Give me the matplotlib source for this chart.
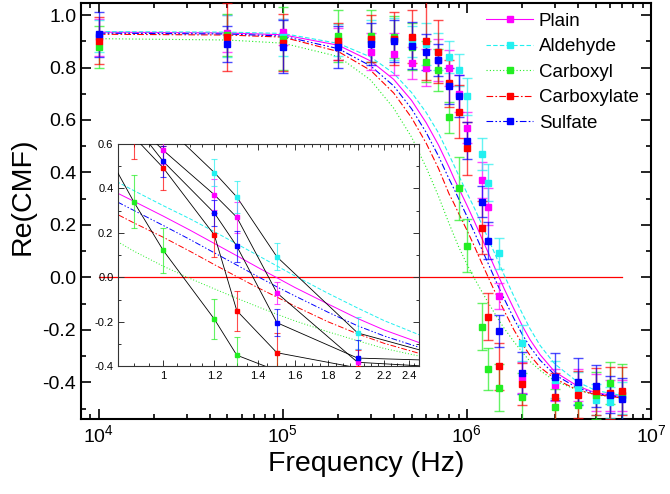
import numpy as np
import matplotlib
matplotlib.use('Agg')
import matplotlib.pyplot as plt
from matplotlib.lines import Line2D
from matplotlib.ticker import MultipleLocator, LogLocator, FixedLocator, FormatStrFormatter, NullFormatter

plt.rcParams['font.family'] = ['Liberation Sans', 'DejaVu Sans']
plt.rcParams['mathtext.fontset'] = 'custom'
plt.rcParams['mathtext.rm'] = 'Liberation Sans'
plt.rcParams['mathtext.it'] = 'Liberation Sans:italic'
plt.rcParams['mathtext.bf'] = 'Liberation Sans:bold'
plt.rcParams['axes.unicode_minus'] = False

# measured points (Hz)
freq = [1e4, 5e4, 1e5, 2e5, 3e5, 4e5, 5e5, 6e5, 7e5, 8e5, 9e5, 1e6,
        1.2e6, 1.3e6, 1.5e6, 2e6, 3e6, 4e6, 5e6, 6e6, 7e6]

plain = [0.915, 0.93, 0.935, 0.89, 0.861, 0.851, 0.817, 0.80, 0.83, 0.798, 0.70, 0.571,
         0.371, 0.27, -0.07, -0.382, -0.411, -0.41, -0.44, -0.45, -0.45]
aldehyde = [0.92, 0.92, 0.915, 0.905, 0.90, 0.91, 0.90, 0.89, 0.861, 0.84, 0.79, 0.69,
            0.471, 0.361, 0.092, -0.25, -0.39, -0.421, -0.466, -0.477, -0.46]
carboxyl = [0.88, 0.925, 0.91, 0.921, 0.92, 0.915, 0.88, 0.823, 0.79, 0.61, 0.34, 0.121,
            -0.188, -0.35, -0.42, -0.456, -0.494, -0.487, -0.449, -0.402, -0.45]
carboxylate = [0.903, 0.916, 0.895, 0.90, 0.91, 0.91, 0.918, 0.903, 0.86, 0.74, 0.632, 0.492,
               0.19, -0.15, -0.339, -0.407, -0.456, -0.447, -0.434, -0.44, -0.433]
sulfate = [0.927, 0.89, 0.88, 0.88, 0.89, 0.903, 0.883, 0.859, 0.829, 0.73, 0.69, 0.521,
           0.289, 0.14, -0.204, -0.363, -0.378, -0.398, -0.414, -0.447, -0.462]

plain_err = [0.07, 0.07, 0.05, 0.06, 0.07, 0.08, 0.06, 0.07, 0.08, 0.07, 0.07, 0.06,
             0.07, 0.07, 0.05, 0.06, 0.06, 0.06, 0.07, 0.06, 0.06]
aldehyde_err = [0.06, 0.08, 0.07, 0.06, 0.08, 0.08, 0.06, 0.08, 0.07, 0.06, 0.06, 0.07,
                0.06, 0.07, 0.06, 0.07, 0.07, 0.06, 0.06, 0.06, 0.06]
carboxyl_err = [0.08, 0.08, 0.12, 0.10, 0.10, 0.08, 0.09, 0.08, 0.08, 0.06, 0.12, 0.10,
                0.09, 0.08, 0.09, 0.09, 0.07, 0.07, 0.09, 0.08, 0.12]
carboxylate_err = [0.09, 0.13, 0.11, 0.07, 0.09, 0.10, 0.10, 0.15, 0.12, 0.09, 0.10, 0.10,
                   0.10, 0.09, 0.09, 0.08, 0.09, 0.09, 0.09, 0.10, 0.09]
sulfate_err = [0.085, 0.07, 0.10, 0.08, 0.08, 0.08, 0.09, 0.07, 0.06, 0.07, 0.08, 0.07,
               0.06, 0.07, 0.06, 0.08, 0.09, 0.09, 0.08, 0.07, 0.08]

# fitted curves
fit_freq = [1e4, 5e4, 1e5, 2e5, 3e5, 4e5, 5e5, 6e5, 7e5, 8e5, 8.5e5, 9e5, 1e6, 1.1e6,
            1.2e6, 1.3e6, 1.4e6, 1.5e6, 1.6e6, 1.8e6, 2e6, 2.2e6, 2.5e6, 3e6, 4e6, 5e6, 7e6]
plain_fit = [0.935, 0.932, 0.925, 0.885, 0.825, 0.755, 0.675, 0.59, 0.505, 0.42, 0.378, 0.342,
             0.275, 0.212, 0.152, 0.097, 0.045, -0.002, -0.046, -0.12, -0.185, -0.237, -0.295,
             -0.36, -0.415, -0.44, -0.455]
aldehyde_fit = [0.937, 0.935, 0.93, 0.892, 0.84, 0.778, 0.705, 0.629, 0.551, 0.467, 0.428, 0.39,
                0.322, 0.263, 0.205, 0.15, 0.099, 0.051, 0.006, -0.072, -0.138, -0.195, -0.26,
                -0.33, -0.399, -0.431, -0.451]
carboxyl_fit = [0.91, 0.905, 0.893, 0.842, 0.752, 0.645, 0.535, 0.42, 0.31, 0.205, 0.16, 0.118,
                0.05, -0.005, -0.052, -0.094, -0.132, -0.166, -0.196, -0.245, -0.285, -0.32,
                -0.355, -0.395, -0.43, -0.448, -0.46]
carboxylate_fit = [0.927, 0.924, 0.916, 0.861, 0.789, 0.703, 0.609, 0.512, 0.416, 0.318, 0.282,
                   0.245, 0.18, 0.117, 0.057, 0.003, -0.046, -0.089, -0.13, -0.2, -0.254, -0.297,
                   -0.343, -0.386, -0.43, -0.446, -0.46]
sulfate_fit = [0.931, 0.928, 0.92, 0.872, 0.806, 0.73, 0.643, 0.553, 0.463, 0.375, 0.338, 0.301,
               0.233, 0.17, 0.11, 0.055, 0.004, -0.043, -0.084, -0.157, -0.218, -0.264, -0.316,
               -0.371, -0.422, -0.443, -0.457]

labels = ['Plain', 'Aldehyde', 'Carboxyl', 'Carboxylate', 'Sulfate']
colors = ['#FF00FF', '#22F0F0', '#22EE22', '#FF0000', '#0000FF']
styles = ['-', (0, (4, 2)), (0, (1, 2)), (0, (6, 2, 1.5, 2)), (0, (6, 2, 1.5, 2, 1.5, 2))]
values = [plain, aldehyde, carboxyl, carboxylate, sulfate]
errors = [plain_err, aldehyde_err, carboxyl_err, carboxylate_err, sulfate_err]
fits = [plain_fit, aldehyde_fit, carboxyl_fit, carboxylate_fit, sulfate_fit]

inset_ticks = [1.0, 1.2, 1.4, 1.6, 1.8, 2.0, 2.2, 2.4]   # MHz
inset_labels = ['1', '1.2', '1.4', '1.6', '1.8', '2', '2.2', '2.4']

fig = plt.figure(figsize=(6.7, 4.94), dpi=100)
ax = fig.add_axes([0.1209, 0.1518, 0.8507, 0.8421])

handles = []
for lab, c, ls, v, e, fit in zip(labels, colors, styles, values, errors, fits):
    ax.plot(fit_freq, fit, color=c, ls=ls, lw=0.8, zorder=2)
    ax.errorbar(freq, v, yerr=e, fmt='none', ecolor=c, elinewidth=1.0, capsize=3.6,
                capthick=1.0, alpha=0.7, zorder=3)
    ax.plot(freq, v, ls='none', marker='s', ms=4.8, color=c, zorder=4)
    handles.append(Line2D([], [], color=c, ls=ls, lw=0.8, marker='s', ms=4.8, label=lab))

ax.plot([freq[0], freq[-1]], [0, 0], color='red', lw=0.9, zorder=1)

ax.set_xscale('log')
ax.set_xlim(8e3, 1e7)
ax.set_ylim(-0.54, 1.046)
ax.yaxis.set_major_locator(MultipleLocator(0.2))
ax.yaxis.set_minor_locator(MultipleLocator(0.1))
ax.yaxis.set_major_formatter(FormatStrFormatter('%.1f'))
ax.xaxis.set_major_locator(LogLocator(base=10))
ax.xaxis.set_minor_locator(LogLocator(base=10, subs=np.arange(2, 10)))
ax.xaxis.set_minor_formatter(NullFormatter())
ax.tick_params(which='both', direction='in', top=True, right=True, labelsize=14, width=1.2)
ax.tick_params(which='major', length=7)
ax.tick_params(which='minor', length=3.5)
for s in ax.spines.values():
    s.set_linewidth(1.5)
ax.set_xlabel('Frequency (Hz)', fontsize=20.5, labelpad=4)
ax.set_ylabel('Re(CMF)', fontsize=20.5)
ax.yaxis.set_label_coords(-0.08, 0.535)

ax.legend(handles=handles, loc='upper right', bbox_to_anchor=(0.995, 1.0), frameon=False,
          fontsize=13.5, handlelength=2.5, handletextpad=0.3, labelspacing=0.45,
          borderaxespad=0.1)

# inset zoom around the crossover
ins = fig.add_axes([0.1766, 0.2585, 0.4488, 0.4504])
for c, ls, v, e, fit in zip(colors, styles, values, errors, fits):
    ins.plot(fit_freq, fit, color=c, ls=ls, lw=0.7, zorder=2)
    ins.plot(freq, v, color='k', lw=0.6, zorder=3)
    ins.errorbar(freq, v, yerr=e, fmt='none', ecolor=c, elinewidth=0.8, capsize=2.2,
                 capthick=0.8, alpha=0.7, zorder=4)
    ins.plot(freq, v, ls='none', marker='s', ms=2.8, color=c, zorder=5)
ins.plot([freq[0], freq[-1]], [0, 0], color='red', lw=0.9, zorder=1)
ins.set_xscale('log')
ins.set_xlim(0.852e6, 2.49e6)
ins.set_ylim(-0.4, 0.6)
ins.xaxis.set_major_locator(FixedLocator([t * 1e6 for t in inset_ticks]))
ins.xaxis.set_minor_locator(FixedLocator(np.arange(0.85, 2.5, 0.05) * 1e6))
ins.set_xticklabels(inset_labels)
ins.xaxis.set_minor_formatter(NullFormatter())
ins.yaxis.set_major_locator(MultipleLocator(0.2))
ins.yaxis.set_minor_locator(MultipleLocator(0.1))
ins.yaxis.set_major_formatter(FormatStrFormatter('%.1f'))
ins.tick_params(which='both', direction='in', top=True, right=True, labelsize=8,
                width=0.7, color='#333333')
ins.tick_params(which='major', length=4)
ins.tick_params(which='minor', length=2)
for s in ins.spines.values():
    s.set_linewidth(0.8)
    s.set_color('#333333')

fig.savefig('out.png', dpi=100)
